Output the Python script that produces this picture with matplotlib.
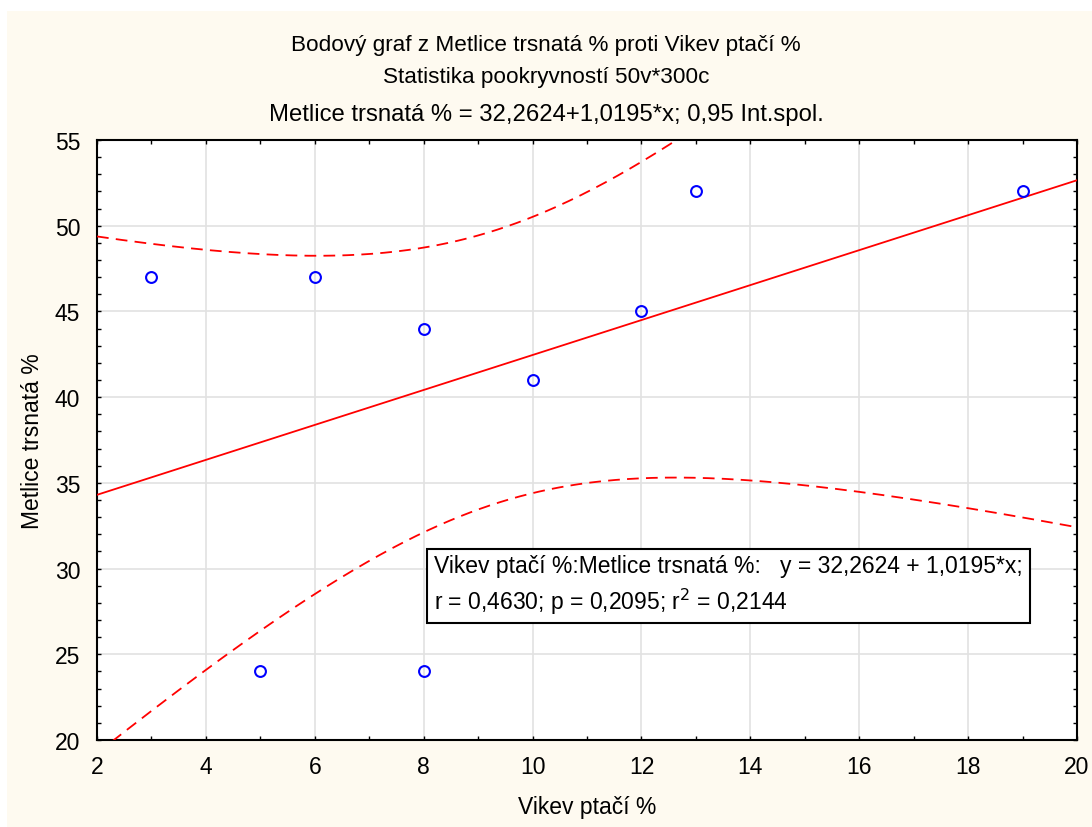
import numpy as np
import matplotlib
matplotlib.use("Agg")
import matplotlib.pyplot as plt
from matplotlib.patches import Rectangle
from matplotlib.ticker import MultipleLocator

# Data
vikev = [3, 5, 6, 8, 8, 10, 12, 13, 19]
metlice = [47, 24, 47, 44, 24, 41, 45, 52, 52]
x_ticks = [2, 4, 6, 8, 10, 12, 14, 16, 18, 20]
y_ticks = [20, 25, 30, 35, 40, 45, 50, 55]
t_975_df7 = 2.3646

plt.rcParams['font.family'] = ['Liberation Sans', 'DejaVu Sans']

x = np.array(vikev, float)
y = np.array(metlice, float)
n = len(x)
xm, ym = x.mean(), y.mean()
sxx = ((x - xm) ** 2).sum()
b = ((x - xm) * (y - ym)).sum() / sxx
a = ym - b * xm
res = y - (a + b * x)
s = np.sqrt((res ** 2).sum() / (n - 2))

W, H = 1092, 828
fig = plt.figure(figsize=(W / 100, H / 100), dpi=100)
fig.patch.set_facecolor('white')
fig.patches.append(Rectangle((7 / W, 0), 1 - 7 / W, 1 - 12 / H,
                             transform=fig.transFigure, facecolor='#fefaf0',
                             edgecolor='none', zorder=-10))

ax = fig.add_axes([97 / W, 1 - 741 / H, (1077 - 97) / W, (741 - 141) / H])
ax.set_facecolor('white')

xx = np.linspace(2, 20, 400)
yy = a + b * xx
se = s * np.sqrt(1 / n + (xx - xm) ** 2 / sxx)
ax.plot(xx, yy, color='#ff0000', lw=1.3, zorder=3)
ax.plot(xx, yy + t_975_df7 * se, color='#ff0000', lw=1.3, ls=(0, (6.5, 4)), zorder=3)
ax.plot(xx, yy - t_975_df7 * se, color='#ff0000', lw=1.3, ls=(0, (6.5, 4)), zorder=3)
ax.plot(x, y, 'o', mfc='none', mec='#0000ff', mew=1.5, ms=7.8, zorder=4, clip_on=False)

ax.set_xlim(2, 20)
ax.set_ylim(20, 55)
ax.set_xticks(x_ticks)
ax.set_yticks(y_ticks)
ax.xaxis.set_minor_locator(MultipleLocator(1))
ax.yaxis.set_minor_locator(MultipleLocator(1))
ax.grid(True, which='major', color='#e2e2e2', lw=1.2, zorder=0)
ax.set_axisbelow(True)
ax.tick_params(which='both', direction='in', top=True, right=True, length=3,
               width=1, color='black', labelsize=16.5)
ax.tick_params(axis='x', pad=11)
ax.tick_params(axis='y', pad=12)
for sp in ax.spines.values():
    sp.set_linewidth(1.5)
    sp.set_color('black')

ax.set_xlabel('Vikev ptačí %', fontsize=16.5, va='center')
ax.set_ylabel('Metlice trsnatá %', fontsize=16.5, va='center')
ax.xaxis.set_label_coords(0.5, (741 - 808) / 600)
ax.yaxis.set_label_coords((33 - 97) / 980, 0.5)

fig.text(0.5, 1 - 45 / H, 'Bodový graf z Metlice trsnatá % proti Vikev ptačí %',
         ha='center', va='center', fontsize=16.2)
fig.text(0.5, 1 - 77 / H, 'Statistika pookryvností 50v*300c',
         ha='center', va='center', fontsize=16.2)
fig.text(0.5, 1 - 115 / H, 'Metlice trsnatá % = 32,2624+1,0195*x; 0,95 Int.spol.',
         ha='center', va='center', fontsize=17.2)

box_text = ('Vikev ptačí %:Metlice trsnatá %:   y = 32,2624 + 1,0195*x;\n'
            'r = 0,4630; p = 0,2095; r$^2$ = 0,2144')
fig.text(434 / W, 1 - 586 / H, box_text, ha='left', va='center', fontsize=16.5,
         linespacing=1.4,
         bbox=dict(boxstyle='square,pad=0.3', facecolor='white', edgecolor='black', lw=1.5))

fig.savefig('out.png', dpi=100, facecolor=fig.get_facecolor())
